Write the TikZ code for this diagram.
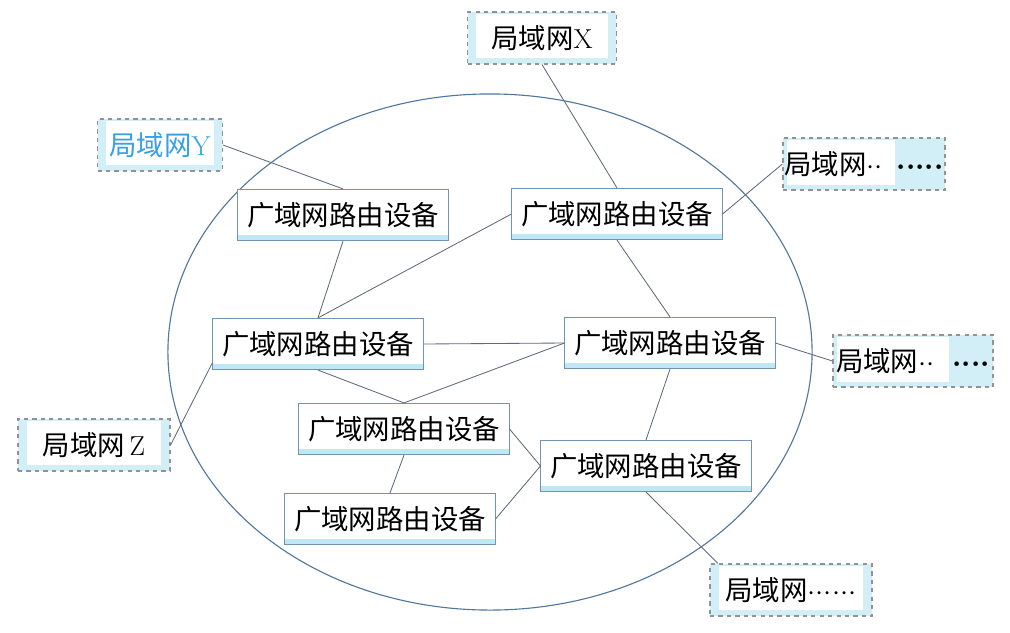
\documentclass[tikz,border=0pt]{standalone}
\usepackage{fontspec}
\newfontfamily\cjk{Noto Sans CJK SC}
\usepackage{tikz}
\usetikzlibrary{positioning,calc}
\definecolor{linkcol}{RGB}{95,105,125}
\definecolor{ringcol}{RGB}{80,120,160}
\definecolor{lanYcol}{RGB}{55,160,230}
\definecolor{bandcol}{RGB}{190,232,245}
\newcommand{\pdot}{${\cdot}$}
\newcommand{\bdot}{{\boldmath${\cdot}$}}

\begin{document}
\begin{tikzpicture}[x=0.025cm, y=-0.025cm,
  wan/.style={draw=ringcol!80, line width=0.7pt, fill=white, minimum width=5.25cm, minimum height=1.28cm, inner sep=0pt,
    font=\cjk\fontsize{19.5}{22}\selectfont,
    path picture={\fill[bandcol] (path picture bounding box.south west) rectangle ([yshift=0.13cm]path picture bounding box.south east);}},
  lan/.style={draw=gray!85, dashed, line width=0.8pt, inner sep=0pt, minimum height=1.3cm,
    font=\fontsize{19.5}{22}\selectfont,
    path picture={\fill[bandcol!70] (path picture bounding box.south west) rectangle (path picture bounding box.north east);
      \fill[white] ([shift={(0.22cm,0.15cm)}]path picture bounding box.south west) rectangle ([shift={(-0.22cm,-0.06cm)}]path picture bounding box.north east);}},
  lanmore/.style={lan,
    path picture={\fill[bandcol!70] (path picture bounding box.south west) rectangle (path picture bounding box.north east);
      \fill[white] ([shift={(0.1cm,0.12cm)}]path picture bounding box.south west) rectangle ([shift={(-#1,-0.06cm)}]path picture bounding box.north east);}},
  link/.style={draw=linkcol, line width=0.6pt}]
  \useasboundingbox (0,0) rectangle (1010,632);

  % WAN ring
  \draw[ringcol, line width=0.8pt] (490,352) ellipse [x radius=8.05cm, y radius=6.45cm];

  % routers
  \node[wan] (r1) at (343,215) {广域网路由设备};
  \node[wan] (r2) at (617,214) {广域网路由设备};
  \node[wan] (r3) at (318,344) {广域网路由设备};
  \node[wan] (r4) at (670,343) {广域网路由设备};
  \node[wan] (r5) at (404,429) {广域网路由设备};
  \node[wan] (r6) at (646,466) {广域网路由设备};
  \node[wan] (r7) at (390,519) {广域网路由设备};

  % LANs
  \node[lan, minimum width=3.72cm] (lanx) at (542,38) {{\cjk 局域网}X};
  \node[lan, minimum width=3.12cm, text=lanYcol] (lany) at (160,145) {{\cjk 局域网}Y};
  \node[lan, minimum width=3.8cm] (lanz) at (94,445) {{\cjk 局域网}\,Z};
  \node[lanmore=1.25cm, minimum width=4.05cm] (lana) at (864,164) {{\cjk 局域网}\pdot\pdot\hspace{0.35cm}\bdot\bdot\bdot\bdot\bdot};
  \node[lanmore=1.1cm, minimum width=4cm] (lanb) at (913,361) {{\cjk 局域网}\pdot\pdot\hspace{0.45cm}\bdot\bdot\bdot\bdot};
  \node[lan, minimum width=4.05cm] (lanc) at (791,590) {{\cjk 局域网}\pdot\pdot\pdot\pdot\pdot\pdot};

  % links
  \draw[link] (lanx.south) -- (r2.north);
  \draw[link] (lany.east) -- (r1.north);
  \draw[link] (r1.south) -- (r3.north);
  \draw[link] (r2.west) -- (r3.north);
  \draw[link] (r2.east) -- (lana.west);
  \draw[link] (r2.south) -- (r4.north);
  \draw[link] (r3.east) -- (r4.west);
  \draw[link] (r3.south) -- (r5.north);
  \draw[link] (r4.west) -- (r5.north);
  \draw[link] (r3.190) -- (lanz.east);
  \draw[link] (r4.east) -- (lanb.west);
  \draw[link] (r4.south) -- (r6.north);
  \draw[link] (r5.east) -- (r6.west);
  \draw[link] (r7.east) -- (r6.west);
  \draw[link] (r5.south) -- (r7.north);
  \draw[link] (r6.south) -- (lanc.160);
\end{tikzpicture}
\end{document}
